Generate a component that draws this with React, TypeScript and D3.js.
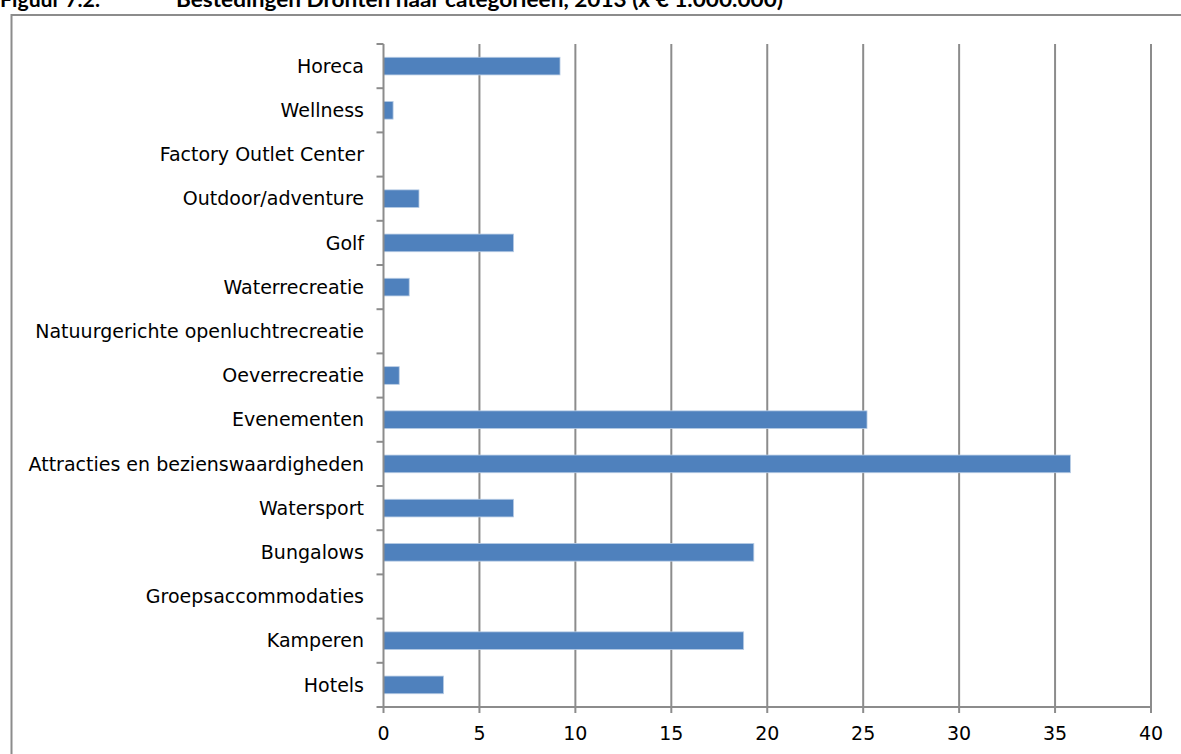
import React from "react";
import * as d3 from "d3";

const categories = [
  "Horeca",
  "Wellness",
  "Factory Outlet Center",
  "Outdoor/adventure",
  "Golf",
  "Waterrecreatie",
  "Natuurgerichte openluchtrecreatie",
  "Oeverrecreatie",
  "Evenementen",
  "Attracties en bezienswaardigheden",
  "Watersport",
  "Bungalows",
  "Groepsaccommodaties",
  "Kamperen",
  "Hotels",
];
const values = [9.2, 0.5, 0, 1.85, 6.78, 1.34, 0, 0.82, 25.2, 35.8, 6.78, 19.3, 0, 18.77, 3.13];
const xTicks = [0, 5, 10, 15, 20, 25, 30, 35, 40];
const titleNum = "Figuur 7.2.";
const titleText = "Bestedingen Dronten naar categorieën, 2013 (x € 1.000.000)";

export default function App() {
  const W = 1181, H = 754;
  const left = 383.5, right = 1151, top = 44, bottom = 707;
  const x = d3.scaleLinear().domain([0, 40]).range([left, right]);
  const y = d3.scaleBand().domain(categories).range([top, bottom]).paddingInner(0.6).paddingOuter(0.3);
  const band = (bottom - top) / categories.length;
  const grey = "#8c8c8c";
  const labelFont = "'DejaVu Sans', Verdana, sans-serif";
  return (
    <svg width={W} height={H} style={{ position: "absolute", left: 0, top: 0, background: "#fff" }}>
      <text x={0} y={7} fontFamily="Lato, 'Liberation Sans', sans-serif" fontWeight="bold" fontSize={20} textLength={100} lengthAdjust="spacingAndGlyphs">{titleNum}</text>
      <text x={176} y={7} fontFamily="Lato, 'Liberation Sans', sans-serif" fontWeight="bold" fontSize={20} textLength={607} lengthAdjust="spacingAndGlyphs">{titleText}</text>
      <rect x={11.5} y={15} width={1200} height={800} fill="none" stroke={grey} strokeWidth={2} />
      {xTicks.slice(1).map((t) => (
        <line key={"g" + t} x1={x(t)} x2={x(t)} y1={top} y2={bottom + 6} stroke={grey} strokeWidth={2} />
      ))}
      {values.map((v, i) => (
        v > 0 ? (
          <rect key={"b" + i} x={x(0)} y={y(categories[i])!} width={x(v) - x(0)} height={y.bandwidth()} fill="#4f81bd" stroke="#b9cde5" strokeWidth={0.8} />
        ) : null
      ))}
      <line x1={left} x2={left} y1={top} y2={bottom + 6} stroke={grey} strokeWidth={2} />
      <line x1={left} x2={right} y1={bottom} y2={bottom} stroke={grey} strokeWidth={2} />
      {d3.range(categories.length + 1).map((i) => (
        <line key={"t" + i} x1={left - 7} x2={left} y1={top + i * band} y2={top + i * band} stroke={grey} strokeWidth={2} />
      ))}
      {categories.map((c) => (
        <text key={c} x={364} y={y(c)! + y.bandwidth() / 2} dy="0.35em" textAnchor="end" fontFamily={labelFont} fontSize={19} fill="#000">{c}</text>
      ))}
      {xTicks.map((t) => (
        <text key={"xl" + t} x={x(t)} y={733} dy="0.35em" textAnchor="middle" fontFamily={labelFont} fontSize={19} fill="#000">{t}</text>
      ))}
    </svg>
  );
}
